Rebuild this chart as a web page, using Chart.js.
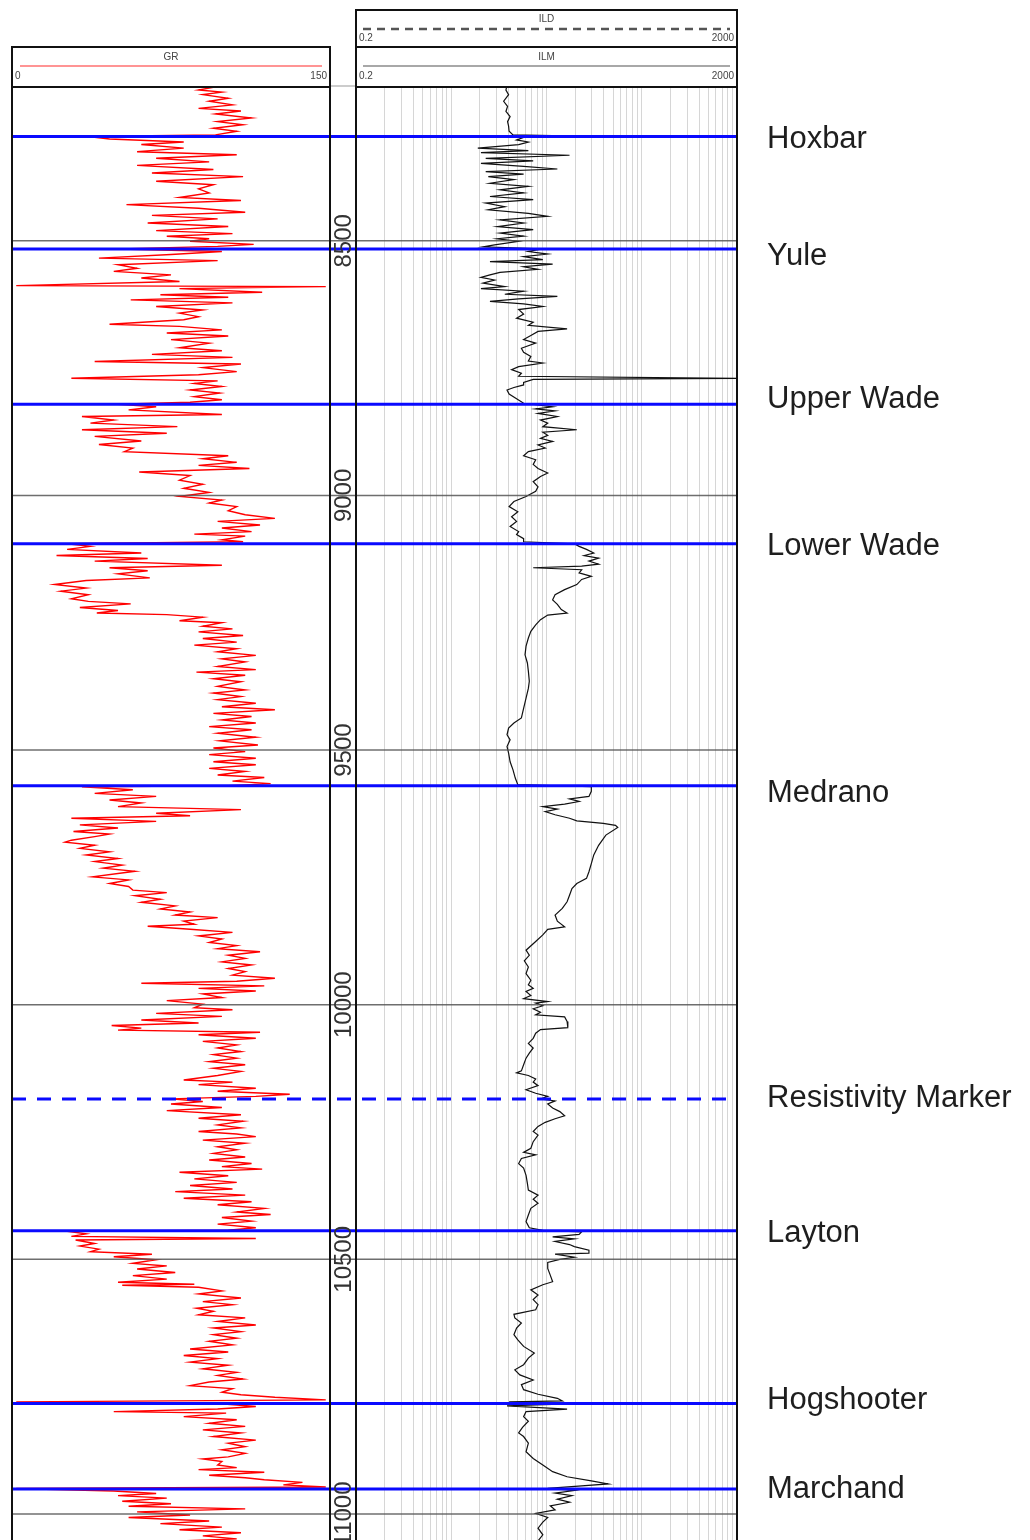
<!DOCTYPE html>
<html>
<head>
<meta charset="utf-8">
<title>Well log</title>
<script src="https://cdn.jsdelivr.net/npm/chart.js@4.4.1/dist/chart.umd.min.js"></script>
<style>
  html, body { margin: 0; padding: 0; background: #fff; }
  body { width: 1030px; height: 1540px; position: relative; overflow: hidden; }
  canvas { position: absolute; top: 0; }
</style>
</head>
<body>
<canvas id="grChart" width="356" height="1545"></canvas>
<canvas id="resChart" width="690" height="1545"></canvas>
<script>
// ------------------------------
// Data
// ------------------------------
const depthRange = [8198, 11061];
const depthTicks = [8500, 9000, 9500, 10000, 10500, 11000];
const grRange = [0, 150];
const resRange = [0.2, 2000];

// gamma ray (API)
const grDepth = [
    8194, 8197, 8204, 8208, 8213, 8220, 8226, 8233, 8240, 8245, 8251, 8259, 8266, 8272, 8279, 8285, 8292, 8295, 8300, 8306, 8311, 8318, 8325, 8331, 8338, 8345, 8352, 8360, 8367, 8374, 8383, 8390, 8398, 8406, 8415, 8421, 8429, 8436, 8444, 8450, 8457, 8465, 8472, 8480, 8486,
    8491, 8496, 8501, 8507, 8511, 8516, 8521, 8527, 8534, 8539, 8547, 8554, 8560, 8567, 8573, 8580, 8588, 8590, 8594, 8601, 8606, 8611, 8616, 8622, 8629, 8636, 8642, 8649, 8655, 8664, 8668, 8675, 8681, 8687, 8694, 8701, 8710, 8716, 8723, 8729, 8737, 8742, 8749, 8757, 8763, 8770, 8775, 8780,
    8786, 8793, 8799, 8806, 8812, 8817, 8821, 8826, 8832, 8841, 8845, 8852, 8858, 8865, 8871, 8878, 8884, 8893, 8900, 8907, 8914, 8922, 8928, 8935, 8941, 8947, 8954, 8961, 8970, 8978, 8986, 8994, 9002, 9009, 9015, 9022, 9030, 9038, 9045, 9051, 9058, 9064, 9071, 9076,
    9080, 9087, 9091, 9095, 9100, 9106, 9113, 9118, 9124, 9129, 9137, 9142, 9148, 9154, 9162, 9167, 9175, 9182, 9188, 9195, 9203, 9208, 9213, 9220, 9226, 9231, 9234, 9239, 9246, 9250, 9257, 9262, 9268, 9275, 9281, 9288, 9294, 9301, 9307, 9314, 9321, 9327, 9336, 9342, 9347, 9353, 9360, 9366,
    9375, 9382, 9388, 9395, 9401, 9408, 9415, 9421, 9428, 9434, 9441, 9447, 9454, 9460, 9467, 9475, 9482, 9490, 9496, 9503, 9509, 9516, 9523, 9529, 9536, 9542, 9549, 9554, 9561, 9566, 9570, 9572, 9578, 9585, 9591, 9598, 9604, 9611, 9617, 9624, 9629, 9634, 9640, 9647, 9653, 9660, 9665,
    9670, 9677, 9681, 9687, 9693, 9700, 9706, 9713, 9719, 9726, 9732, 9738, 9749, 9755, 9762, 9768, 9775, 9780, 9786, 9793, 9799, 9806, 9812, 9818, 9824, 9829, 9836, 9842, 9846, 9852, 9858, 9865, 9871, 9878, 9884, 9890, 9896, 9903, 9909, 9916, 9922, 9929, 9935, 9942, 9948, 9954, 9958,
    9963, 9968, 9973, 9979, 9986, 9992, 9999, 10006, 10010, 10017, 10023, 10030, 10036, 10041, 10046, 10050, 10054, 10059, 10066, 10072, 10079, 10085, 10092, 10098, 10105, 10112, 10118, 10125, 10131, 10139, 10148, 10152, 10157, 10164, 10170, 10176, 10180, 10185, 10190, 10195, 10202, 10208, 10216, 10223, 10229, 10236, 10242, 10249, 10254,
    10259, 10266, 10272, 10279, 10285, 10292, 10299, 10305, 10312, 10318, 10323, 10329, 10336, 10342, 10349, 10355, 10362, 10367, 10374, 10380, 10387, 10393, 10400, 10407, 10412, 10418, 10425, 10431, 10438, 10443, 10445, 10450, 10455, 10459, 10462, 10469, 10474, 10480, 10485, 10490, 10495, 10501, 10508, 10513, 10519, 10526, 10532, 10539, 10545, 10549,
    10551, 10555, 10562, 10568, 10576, 10583, 10589, 10596, 10602, 10609, 10615, 10622, 10629, 10635, 10642, 10648, 10655, 10661, 10668, 10676, 10682, 10689, 10695, 10702, 10708, 10715, 10722, 10728, 10735, 10741, 10748, 10754, 10761, 10766, 10771, 10776, 10780, 10784, 10789, 10794, 10799, 10802, 10809, 10815, 10822, 10828, 10835, 10841,
    10848, 10855, 10861, 10868, 10874, 10881, 10888, 10892, 10897, 10904, 10909, 10913, 10918, 10924, 10929, 10933, 10938, 10943, 10947, 10950, 10955, 10960, 10964, 10969, 10975, 10980, 10985, 10990, 10996, 11002, 11007, 11014, 11019, 11026, 11031, 11037, 11043, 11049, 11053
];
const grApi = [
    96, 97, 88, 99, 90, 102, 93, 104, 88, 108, 96, 113, 97, 109, 95, 106, 96, 35, 46, 81, 61, 81, 59, 106, 68, 93, 59, 95, 66, 109, 68, 95, 88, 93, 79, 108, 54, 88, 110, 66, 97, 64, 102, 68, 104,
    73, 93, 84, 114, 97, 51, 99, 75, 41, 97, 50, 59, 48, 75, 61, 79, 2, 148, 79, 118, 70, 102, 56, 104, 68, 90, 79, 88, 81, 46, 79, 99, 73, 102, 75, 93, 79, 99, 66, 104, 39, 108, 90, 106, 88, 28, 97, 86,
    99, 84, 98, 86, 99, 84, 50, 68, 55, 99, 33, 48, 37, 78, 33, 73, 39, 61, 41, 57, 53, 102, 90, 106, 88, 112, 60, 84, 79, 90, 81, 93, 79, 99, 93, 106, 102, 110, 124, 97, 117, 99, 113, 86,
    110, 99, 109, 26, 37, 26, 61, 21, 64, 39, 99, 46, 64, 50, 65, 35, 20, 35, 23, 36, 28, 36, 56, 32, 50, 40, 73, 90, 79, 99, 90, 104, 88, 109, 90, 106, 86, 106, 97, 115, 99, 110, 97, 115, 87, 110, 95, 108,
    97, 110, 95, 108, 97, 115, 99, 124, 95, 113, 99, 115, 93, 113, 97, 115, 98, 116, 95, 110, 93, 115, 95, 115, 93, 110, 97, 119, 104, 122, 102, 33, 57, 39, 68, 46, 61, 50, 108, 68, 84, 28, 68, 32, 50, 29, 46,
    39, 28, 25, 39, 32, 46, 35, 50, 39, 52, 43, 58, 38, 55, 46, 55, 57, 73, 58, 70, 61, 77, 70, 84, 77, 97, 81, 86, 64, 84, 104, 88, 99, 93, 106, 97, 117, 102, 110, 99, 113, 102, 110, 104, 124, 106, 61,
    119, 88, 115, 90, 99, 73, 90, 86, 104, 68, 99, 61, 88, 47, 61, 50, 117, 88, 115, 90, 106, 97, 108, 95, 106, 93, 110, 95, 108, 97, 81, 104, 88, 115, 97, 131, 115, 75, 90, 75, 99, 73, 108, 88, 109, 97, 108, 88, 106,
    115, 90, 110, 97, 106, 95, 110, 93, 113, 99, 118, 79, 102, 86, 106, 84, 104, 77, 110, 81, 113, 97, 119, 106, 122, 99, 113, 97, 115, 102, 26, 35, 28, 115, 30, 39, 32, 41, 37, 66, 48, 68, 57, 73, 59, 77, 57, 73, 50, 86,
    52, 88, 99, 88, 108, 90, 104, 87, 95, 88, 110, 97, 115, 95, 108, 95, 106, 93, 104, 84, 102, 81, 97, 84, 102, 90, 106, 97, 109, 93, 84, 104, 99, 108, 124, 148, 2, 100, 115, 97, 48, 101, 81, 106, 93, 110, 90, 108,
    95, 115, 102, 110, 99, 110, 102, 90, 99, 97, 106, 88, 119, 93, 110, 119, 137, 128, 148, 2, 48, 68, 50, 73, 52, 75, 55, 110, 59, 84, 55, 93, 70, 99, 79, 108, 90, 106, 79
];

// medium induction resistivity (ohm.m)
const ilmDepth = [
    8194, 8204, 8213, 8226, 8236, 8246, 8256, 8266, 8275, 8285, 8292, 8295, 8297, 8302, 8306, 8311, 8318, 8323, 8327, 8332, 8338, 8343, 8348, 8354, 8359, 8364, 8369, 8374, 8380, 8387, 8393, 8400, 8406, 8413, 8419, 8426, 8433, 8439, 8446, 8452, 8459, 8465, 8472, 8478, 8485,
    8491, 8496, 8501, 8508, 8512, 8516, 8521, 8526, 8531, 8537, 8541, 8546, 8551, 8556, 8562, 8567, 8572, 8577, 8583, 8590, 8594, 8599, 8605, 8609, 8614, 8619, 8624, 8629, 8635, 8644, 8652, 8660, 8666, 8673, 8678, 8686, 8694, 8701, 8711, 8719, 8727, 8736, 8740, 8747, 8753, 8760, 8766, 8770, 8772, 8778,
    8783, 8788, 8793, 8801, 8810, 8819, 8822, 8826, 8830, 8834, 8839, 8845, 8852, 8858, 8865, 8871, 8876, 8882, 8888, 8894, 8901, 8907, 8914, 8922, 8930, 8939, 8947, 8956, 8963, 8973, 8983, 8992, 9002, 9012, 9022, 9032, 9042, 9051, 9061, 9071,
    9077, 9085, 9091, 9095, 9100, 9106, 9113, 9118, 9123, 9129, 9135, 9139, 9142, 9146, 9152, 9159, 9165, 9175, 9185, 9195, 9205, 9214, 9224, 9231, 9235, 9244, 9254, 9267, 9280, 9296, 9313, 9329, 9345, 9365,
    9379, 9398, 9418, 9437, 9447, 9457, 9470, 9480, 9493, 9506, 9523, 9539, 9555, 9568, 9572, 9581, 9591, 9596, 9601, 9606, 9611, 9616, 9621, 9627, 9634, 9639, 9644, 9648, 9652,
    9667, 9687, 9706, 9723, 9739, 9752, 9762, 9772, 9785, 9798, 9811, 9824, 9836, 9847, 9852, 9863, 9876, 9893, 9903, 9914, 9926, 9939, 9952,
    9961, 9968, 9974, 9982, 9988, 9994, 9997, 10002, 10008, 10015, 10020, 10024, 10033, 10045, 10049, 10056, 10066, 10076, 10085, 10095, 10105, 10118, 10130, 10134, 10139, 10146, 10152, 10159, 10167, 10174, 10180, 10185, 10189, 10195, 10203, 10210, 10218, 10224, 10231, 10239, 10249,
    10256, 10269, 10282, 10290, 10295, 10302, 10312, 10321, 10335, 10351, 10364, 10374, 10382, 10390, 10400, 10413, 10426, 10438, 10443, 10446, 10451, 10456, 10460, 10465, 10471, 10475, 10482, 10488, 10490, 10496, 10500, 10506, 10518, 10531, 10544,
    10550, 10560, 10570, 10579, 10589, 10599, 10608, 10615, 10625, 10635, 10648, 10658, 10671, 10684, 10694, 10707, 10717, 10727, 10737, 10746, 10756, 10765, 10773, 10778, 10780, 10784, 10788, 10794, 10799, 10809, 10818, 10830, 10841,
    10848, 10861, 10878, 10891, 10904, 10917, 10927, 10935, 10941, 10945, 10950, 10954, 10959, 10964, 10971, 10977, 10984, 10992, 10999, 11007, 11016, 11028, 11041, 11053
];
const ilmOhm = [
    7.7, 7.5, 8.0, 7.1, 7.8, 7.5, 8.3, 7.8, 8.0, 8.1, 8.9, 59, 11.5, 9.7, 12.9, 10.2, 3.8, 12.9, 4.1, 34.9, 4.6, 14.5, 4.1, 11.5, 26, 4.6, 11.5, 4.9, 9.1, 5.1, 12.9, 6.5, 11.5, 5.1, 14.5, 4.6, 7.3, 4.9, 12.9, 20.6, 6.5, 11.5, 6.1, 14.5, 6.5,
    11.5, 6.1, 10.2, 5.7, 4.3, 18.3, 12.9, 20.6, 11.5, 18.3, 5.1, 23.2, 11.5, 16.3, 6.5, 5.1, 4.1, 5.7, 4.3, 7.3, 4.1, 11.5, 7.3, 26, 10.2, 5.1, 11.5, 18.3, 10.2, 11.5, 9.7, 14.5, 12.9, 32.9, 16.3, 13.7, 11.5, 15.4, 10.9, 11.5, 13.7, 12.9, 18.3, 10.2, 8.6, 10.9, 10.2, 2000, 14.5, 11.5,
    11.5, 9.1, 7.7, 8.1, 9.7, 11.5, 15.4, 23.2, 15.4, 24.6, 16.3, 26, 17.3, 20.6, 18.3, 41.6, 18.3, 20.6, 17.3, 23.2, 16.3, 19.4, 12.9, 11.5, 15.4, 14.5, 16.3, 20.6, 17.3, 14.5, 16.3, 15.4, 12.2, 9.1, 8.1, 10, 8.6, 9.7, 8.3, 10.2,
    9.7, 11.5, 11.5, 39.2, 44, 52.6, 62.7, 49.6, 70.5, 55.8, 70.5, 46.8, 14.5, 46.8, 44, 59.1, 46.8, 41.6, 31, 24.6, 23.2, 26, 28.6, 32.9, 20.6, 17.3, 15.4, 13.7, 12.9, 12.2, 11.9, 12.6, 12.9, 13.2,
    12.9, 12.2, 11.5, 10.9, 9.1, 8.0, 7.7, 8.3, 7.7, 8.0, 8.3, 8.9, 9.4, 10, 59.1, 59.1, 55.8, 34.9, 44, 31, 18.3, 26, 19.4, 24.6, 34.9, 41.6, 79, 106, 112,
    84, 70.5, 62.7, 59.1, 55.8, 52.6, 41.6, 37, 34.9, 32.9, 29.3, 24.6, 26, 31, 20.6, 18.3, 15.4, 12.2, 13.2, 11.7, 12.9, 12.2, 13.7,
    12.9, 14.5, 12.2, 13.7, 11.5, 20.6, 15.4, 18.3, 14.5, 17.3, 15.4, 31, 32.9, 33.5, 17.3, 15.4, 14.5, 12.9, 14.5, 13.2, 12.2, 11.5, 10.9, 9.7, 12.9, 15.4, 14.5, 16.3, 12.2, 15.4, 20.6, 17.3, 24.6, 20.6, 23.2, 27.6, 31, 24.6, 19.4, 16.3, 14.5,
    16.3, 14.5, 13.7, 11.5, 15.4, 10.9, 10.2, 11.5, 12.2, 12.6, 12.9, 16.3, 14.5, 16.3, 13.7, 12.9, 12.2, 13.2, 18.3, 46.8, 44, 23.2, 39.2, 24.6, 34.9, 39.2, 55.8, 55.8, 24.6, 39.2, 27.6, 20.6, 20.6, 21.9, 23.2,
    18.3, 13.7, 16.3, 14.5, 16.3, 15.4, 9.1, 9.3, 10.9, 9.7, 9.1, 10, 11.5, 14.9, 12.9, 11.5, 9.3, 10.5, 14.5, 10.9, 11.5, 16.3, 26, 29.3, 8.1, 32.9, 7.7, 32.9, 12.2, 11.5, 12.9, 11.2, 10.2,
    11.5, 12.9, 12.2, 14.5, 18.3, 23.2, 32.9, 59.1, 89, 46.8, 20.6, 39.2, 24.6, 37, 26, 34.9, 21.9, 24.6, 15.4, 20.6, 18.3, 16.3, 18.3, 16.3
];

// formation tops
const topNames = ["Hoxbar", "Yule", "Upper Wade", "Lower Wade", "Medrano", "Resistivity Marker", "Layton", "Hogshooter", "Marchand"];
const topDepths = [8295, 8516, 8821, 9095, 9570, 10185, 10444, 10783, 10951];
const topLabelDepths = [8296, 8524, 8806, 9095, 9580, 10179, 10444, 10772, 10947];
const topDashed = [false, false, false, false, false, true, false, false, false];

if (grDepth.length !== grApi.length || ilmDepth.length !== ilmOhm.length) {
    console.error("curve arrays differ in length", grDepth.length, grApi.length, ilmDepth.length, ilmOhm.length);
}

// log grid of the resistivity track: 0.2, 0.4 ... 2, 4 ... 2000
const resGrid = [];
for (let e = -1; e <= 2; e++) {
    for (let k = 1; k <= 10; k++) {
        const v = +(2 * k * Math.pow(10, e)).toPrecision(3);
        if (!resGrid.includes(v)) resGrid.push(v);
    }
}

// ------------------------------
// Layout
// ------------------------------
const resCanvasLeft = 340;
const headerTopGr = 47;
const headerTopRes = 10;
const headerSplit = 47;
const trackTop = 87;
const dashStartX = 12;        // page x where the dashed marker starts
const labelFont = "31px 'Liberation Sans', Arial, sans-serif";
const smallFont = "10px 'Liberation Sans', Arial, sans-serif";

document.getElementById("resChart").style.left = resCanvasLeft + "px";

function depthAxis() {
    return { type: "linear", reverse: true, min: depthRange[0], max: depthRange[1], display: false };
}

function hLine(ctx, x0, x1, y) {
    ctx.beginPath();
    ctx.moveTo(x0, y);
    ctx.lineTo(x1, y);
    ctx.stroke();
}

// depth lines + formation tops between x0 and x1 (canvas coords)
function drawDepthLines(ctx, yScale, x0, x1, pageOffset) {
    ctx.save();
    ctx.strokeStyle = "rgba(85,85,85,0.85)";
    ctx.lineWidth = 1.5;
    depthTicks.forEach(d => hLine(ctx, x0, x1, yScale.getPixelForValue(d)));

    ctx.strokeStyle = "#0a0aff";
    ctx.lineWidth = 3;
    topDepths.forEach((d, i) => {
        ctx.setLineDash(topDashed[i] ? [14, 11] : []);
        ctx.lineDashOffset = topDashed[i] ? (x0 + pageOffset - dashStartX) : 0;
        hLine(ctx, x0, x1, yScale.getPixelForValue(d));
    });
    ctx.restore();
}

function drawText(ctx, text, x, y, align, font, color) {
    ctx.font = font;
    ctx.fillStyle = color;
    ctx.textAlign = align;
    ctx.textBaseline = "middle";
    ctx.fillText(text, x, y);
}

// ------------------------------
// GR track decoration
// ------------------------------
const grTrack = {
    id: "grTrack",
    afterDatasetsDraw(chart) {
        const { ctx, chartArea: a, scales: { y } } = chart;
        const gapRight = chart.width;

        drawDepthLines(ctx, y, a.left, gapRight, 0);

        ctx.save();
        // thin line across the gap at the top of the tracks
        ctx.strokeStyle = "#999";
        ctx.lineWidth = 1;
        hLine(ctx, a.right, gapRight, a.top - 1);

        // depth numbers, rotated, in the gap between the tracks
        const cx = (a.right + gapRight) / 2;
        depthTicks.forEach(d => {
            ctx.save();
            ctx.translate(cx, y.getPixelForValue(d));
            ctx.rotate(-Math.PI / 2);
            drawText(ctx, String(d), 0, 1, "center", "24px 'Liberation Sans', Arial, sans-serif", "#333");
            ctx.restore();
        });

        // track frame and header box
        ctx.strokeStyle = "#111";
        ctx.lineWidth = 2;
        ctx.strokeRect(a.left, headerTopGr, a.right - a.left, trackTop - headerTopGr);
        ctx.beginPath();
        ctx.moveTo(a.left, headerTopGr); ctx.lineTo(a.left, a.bottom + 5);
        ctx.moveTo(a.right, headerTopGr); ctx.lineTo(a.right, a.bottom + 5);
        ctx.stroke();

        const mid = (a.left + a.right) / 2;
        drawText(ctx, "GR", mid, 57, "center", smallFont, "#444");
        ctx.strokeStyle = "rgba(255,60,60,0.55)";
        ctx.lineWidth = 2;
        hLine(ctx, a.left + 8, a.right - 8, 66);
        drawText(ctx, String(grRange[0]), a.left + 3, 76, "left", smallFont, "#444");
        drawText(ctx, String(grRange[1]), a.right - 3, 76, "right", smallFont, "#444");
        ctx.restore();
    }
};

// ------------------------------
// Resistivity track decoration
// ------------------------------
const resTrack = {
    id: "resTrack",
    afterDatasetsDraw(chart) {
        const { ctx, chartArea: a, scales: { y } } = chart;

        drawDepthLines(ctx, y, a.left, a.right, resCanvasLeft);

        ctx.save();
        ctx.strokeStyle = "#111";
        ctx.lineWidth = 2;
        ctx.strokeRect(a.left, headerTopRes, a.right - a.left, headerSplit - headerTopRes);
        ctx.strokeRect(a.left, headerSplit, a.right - a.left, trackTop - headerSplit);
        ctx.beginPath();
        ctx.moveTo(a.left, headerTopRes); ctx.lineTo(a.left, a.bottom + 5);
        ctx.moveTo(a.right, headerTopRes); ctx.lineTo(a.right, a.bottom + 5);
        ctx.stroke();

        const mid = (a.left + a.right) / 2;
        // ILD header (dashed)
        drawText(ctx, "ILD", mid, 19, "center", smallFont, "#444");
        ctx.strokeStyle = "#555";
        ctx.lineWidth = 2.5;
        ctx.setLineDash([8, 6]);
        hLine(ctx, a.left + 7, a.right - 7, 29);
        ctx.setLineDash([]);
        drawText(ctx, String(resRange[0]), a.left + 3, 38, "left", smallFont, "#444");
        drawText(ctx, String(resRange[1]), a.right - 3, 38, "right", smallFont, "#444");

        // ILM header (solid)
        drawText(ctx, "ILM", mid, 57, "center", smallFont, "#444");
        ctx.strokeStyle = "#a8a8a8";
        ctx.lineWidth = 2;
        hLine(ctx, a.left + 7, a.right - 7, 66);
        drawText(ctx, String(resRange[0]), a.left + 3, 76, "left", smallFont, "#444");
        drawText(ctx, String(resRange[1]), a.right - 3, 76, "right", smallFont, "#444");

        // formation names (nudged down so the caps sit on the line)
        topNames.forEach((name, i) => {
            drawText(ctx, name, a.right + 30, y.getPixelForValue(topLabelDepths[i]) + 3, "left", labelFont, "#1e1e1e");
        });
        ctx.restore();
    }
};

// ------------------------------
// Charts
// ------------------------------
new Chart(document.getElementById("grChart"), {
    type: "scatter",
    data: {
        datasets: [{
            label: "GR",
            data: grDepth.map((d, i) => ({ x: grApi[i], y: d })),
            showLine: true,
            pointRadius: 0,
            borderColor: "#ff0000",
            borderWidth: 1.4
        }]
    },
    options: {
        responsive: false,
        animation: false,
        devicePixelRatio: 1,
        layout: { padding: { left: 12, right: 26, top: trackTop, bottom: 0 } },
        plugins: { legend: { display: false }, tooltip: { enabled: false } },
        scales: {
            x: { type: "linear", min: grRange[0], max: grRange[1], display: false },
            y: depthAxis()
        }
    },
    plugins: [grTrack]
});

new Chart(document.getElementById("resChart"), {
    type: "scatter",
    data: {
        datasets: [{
            label: "ILM",
            data: ilmDepth.map((d, i) => ({ x: ilmOhm[i], y: d })),
            showLine: true,
            pointRadius: 0,
            borderColor: "#111",
            borderWidth: 1.2
        }]
    },
    options: {
        responsive: false,
        animation: false,
        devicePixelRatio: 1,
        layout: { padding: { left: 16, right: 293, top: trackTop, bottom: 0 } },
        plugins: { legend: { display: false }, tooltip: { enabled: false } },
        scales: {
            x: {
                type: "logarithmic",
                min: resRange[0],
                max: resRange[1],
                afterBuildTicks: axis => { axis.ticks = resGrid.map(v => ({ value: v })); },
                ticks: { display: false },
                grid: { color: "rgba(0,0,0,0.16)", lineWidth: 1, drawTicks: false },
                border: { display: false }
            },
            y: depthAxis()
        }
    },
    plugins: [resTrack]
});
</script>
</body>
</html>
